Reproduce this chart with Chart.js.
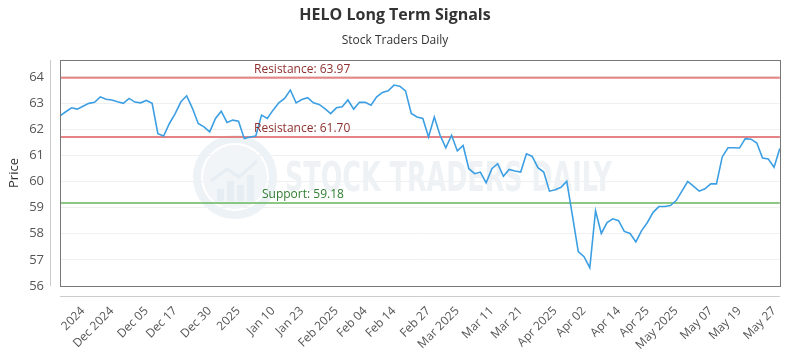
<!DOCTYPE html>
<html><head><meta charset="utf-8">
<script src="https://cdn.jsdelivr.net/npm/chart.js@4/dist/chart.umd.min.js"></script>
<style>html,body{margin:0;padding:0;background:#fff}#wrap{width:800px;height:350px}</style>
</head><body><div id="wrap"><canvas id="c" width="800" height="350"></canvas></div>
<script>
const prices = [
62.51,62.67,62.82,62.77,62.88,62.99,63.03,63.24,63.15,63.12,
63.05,62.99,63.18,63.04,63.01,63.10,62.99,61.83,61.74,62.22,
62.60,63.05,63.28,62.80,62.22,62.09,61.90,62.41,62.69,62.26,
62.35,62.31,61.64,61.70,61.74,62.54,62.41,62.73,63.01,63.18,
63.50,63.01,63.14,63.21,63.01,62.95,62.79,62.60,62.82,62.86,
63.12,62.77,63.03,63.03,62.92,63.24,63.41,63.47,63.69,63.65,
63.47,62.60,62.47,62.41,61.70,62.47,61.77,61.29,61.77,61.17,
61.38,60.49,60.30,60.36,59.95,60.49,60.68,60.20,60.46,60.40,
60.36,61.06,60.96,60.53,60.36,59.63,59.68,59.78,60.01,58.67,
57.32,57.12,56.70,58.88,58.01,58.43,58.57,58.50,58.09,58.01,
57.69,58.12,58.43,58.82,59.04,59.04,59.08,59.27,59.63,60.00,
59.82,59.63,59.72,59.91,59.91,60.94,61.29,61.29,61.28,61.64,
61.62,61.47,60.90,60.86,60.55,61.26
];
const tickLabels = ['2024','Dec 2024','Dec 05','Dec 17','Dec 30','2025','Jan 10','Jan 23','Feb 2025','Feb 04','Feb 14','Feb 27','Mar 2025','Mar 11','Mar 21','Apr 2025','Apr 02','Apr 14','Apr 25','May 2025','May 07','May 19','May 27'];
const tickIndex = [4,9,15,20,26,31,37,42,48,53,58,64,69,75,80,86,91,97,102,107,113,118,124];
const levelValues = [63.97, 61.70, 59.18];
const levelLabels = ['Resistance: 63.97', 'Resistance: 61.70', 'Support: 59.18'];
const levelKinds = ['res', 'res', 'sup'];
const yTicks = [56, 57, 58, 59, 60, 61, 62, 63, 64];
const yMin = 56, yMax = 64.65;

const categories = prices.map((_, i) => {
  const k = tickIndex.indexOf(i);
  return k >= 0 ? tickLabels[k] : '';
});

const FONT = "'Open Sans', sans-serif";

const decor = {
  id: 'decor',
  beforeDatasetsDraw(chart) {
    const {ctx, chartArea: a, scales: {y}} = chart;
    ctx.save();
    const cx = 235, cy = 177, r = 38;
    ctx.strokeStyle = '#edf2f6';
    ctx.lineWidth = 8;
    ctx.beginPath(); ctx.arc(cx, cy, r, 0, Math.PI * 2); ctx.stroke();
    ctx.fillStyle = '#f1f5f8';
    ctx.beginPath(); ctx.arc(cx, cy, r - 6, 0, Math.PI * 2); ctx.fill();
    ctx.fillStyle = '#e6edf3';
    [[-18, 12], [-8, 20], [2, 16], [12, 26]].forEach(([dx, h]) => {
      ctx.fillRect(cx + dx, cy + 24 - h, 7, h);
    });
    ctx.strokeStyle = '#e6edf3'; ctx.lineWidth = 3;
    ctx.beginPath(); ctx.moveTo(cx - 24, cy + 4); ctx.lineTo(cx - 8, cy - 8); ctx.lineTo(cx + 4, cy); ctx.lineTo(cx + 22, cy - 16); ctx.stroke();
    ctx.fillStyle = '#eef2f5';
    ctx.font = "bold 40px 'DejaVu Sans Condensed', 'DejaVu Sans', sans-serif";
    ctx.textBaseline = 'middle';
    ctx.textAlign = 'left';
    const txt = 'STOCK TRADERS DAILY';
    const w = ctx.measureText(txt).width;
    ctx.translate(285, 181);
    ctx.scale(327 / w, 1);
    ctx.fillText(txt, 0, 0);
    ctx.restore();

    ctx.save();
    levelValues.forEach((v, i) => {
      const py = y.getPixelForValue(v);
      ctx.strokeStyle = levelKinds[i] === 'res' ? 'rgba(225,110,110,0.85)' : 'rgba(120,190,110,0.85)';
      ctx.lineWidth = 2;
      ctx.beginPath(); ctx.moveTo(a.left, py); ctx.lineTo(a.right, py); ctx.stroke();
    });
    ctx.restore();
  },
  afterDatasetsDraw(chart) {
    const {ctx, scales: {y}} = chart;
    ctx.save();
    ctx.font = "12px " + FONT;
    ctx.textAlign = 'left';
    ctx.textBaseline = 'bottom';
    levelValues.forEach((v, i) => {
      const py = y.getPixelForValue(v);
      ctx.fillStyle = levelKinds[i] === 'res' ? '#8e2f2f' : '#2f7d2f';
      const x = levelKinds[i] === 'res' ? 254 : 262;
      ctx.fillText(levelLabels[i], x, py - 2);
    });
    ctx.restore();
  },
  afterDraw(chart) {
    const {ctx, chartArea: a} = chart;
    ctx.save();
    ctx.strokeStyle = '#777';
    ctx.lineWidth = 1;
    ctx.strokeRect(Math.round(a.left) + 0.5, Math.round(a.top) + 0.5, Math.round(a.right - a.left), Math.round(a.bottom - a.top));
    ctx.strokeStyle = '#ccc';
    ctx.beginPath();
    ctx.moveTo(Math.round(a.left) - 9.5, a.top); ctx.lineTo(Math.round(a.left) - 9.5, a.bottom);
    ctx.moveTo(a.left, Math.round(a.bottom) + 10.5); ctx.lineTo(a.right, Math.round(a.bottom) + 10.5);
    ctx.stroke();
    ctx.restore();
  }
};

new Chart(document.getElementById('c'), {
  type: 'line',
  data: {
    labels: categories,
    datasets: [{
      data: prices,
      borderColor: '#3d9fe3',
      borderWidth: 1.6,
      pointRadius: 0,
      tension: 0,
      fill: false
    }]
  },
  options: {
    responsive: false,
    animation: false,
    layout: {padding: {left: 0, right: 10, top: 0, bottom: 0}},
    plugins: {
      legend: {display: false},
      tooltip: {enabled: false},
      title: {
        display: true,
        text: 'HELO Long Term Signals',
        color: '#333',
        font: {family: FONT, size: 16, weight: 'bold'},
        padding: {top: 6, bottom: 8}
      },
      subtitle: {
        display: true,
        text: 'Stock Traders Daily',
        color: '#333',
        font: {family: FONT, size: 12},
        padding: {top: 0, bottom: 12.4}
      }
    },
    scales: {
      x: {
        type: 'category',
        offset: false,
        grid: {display: false},
        border: {display: false},
        afterFit(s) { s.height = 64; },
        ticks: {
          autoSkip: false,
          maxRotation: 45,
          minRotation: 45,
          padding: 10,
          color: '#555',
          font: {family: FONT, size: 12}
        }
      },
      y: {
        min: yMin,
        max: yMax,
        afterFit(s) { s.width = 60; },
        afterBuildTicks(s) { s.ticks = yTicks.map(v => ({value: v})); },
        border: {display: false},
        grid: {color: '#f0f0f0', drawTicks: false},
        title: {display: true, text: 'Price', color: '#333', font: {family: FONT, size: 13}, padding: {top: 6, bottom: 0}},
        ticks: {
          padding: 16,
          color: '#555',
          font: {family: FONT, size: 13},
          callback: v => String(v)
        }
      }
    }
  },
  plugins: [decor]
});
</script>
</body></html>
